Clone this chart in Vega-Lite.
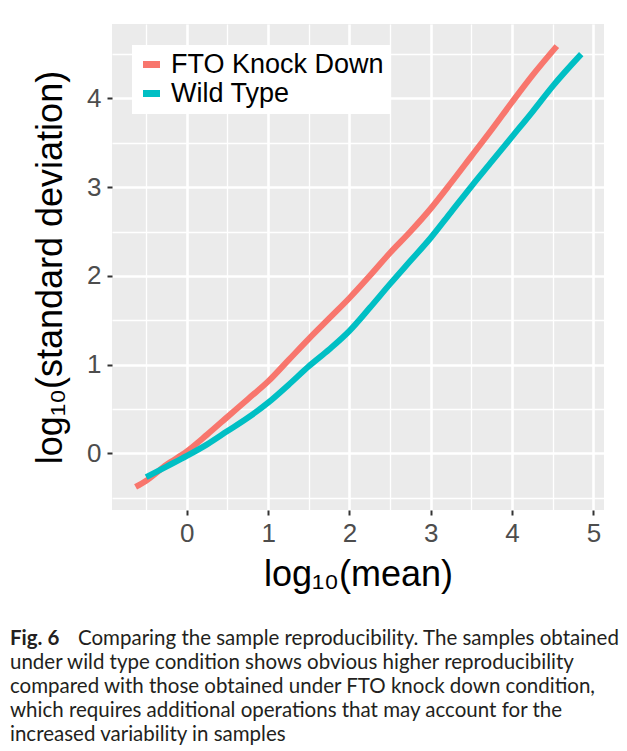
{
  "$schema": "https://vega.github.io/schema/vega-lite/v6.json",
  "background": "white",
  "padding": {"left": 10, "top": 24, "right": 0, "bottom": 0},
  "spacing": 35,
  "datasets": {
    "curves": [
      {"group": "FTO Knock Down", "x": -0.63, "y": -0.38},
      {"group": "FTO Knock Down", "x": -0.5, "y": -0.31},
      {"group": "FTO Knock Down", "x": -0.25, "y": -0.13},
      {"group": "FTO Knock Down", "x": 0, "y": 0.02},
      {"group": "FTO Knock Down", "x": 0.25, "y": 0.21},
      {"group": "FTO Knock Down", "x": 0.5, "y": 0.41},
      {"group": "FTO Knock Down", "x": 0.75, "y": 0.61},
      {"group": "FTO Knock Down", "x": 1, "y": 0.81},
      {"group": "FTO Knock Down", "x": 1.25, "y": 1.05},
      {"group": "FTO Knock Down", "x": 1.5, "y": 1.29},
      {"group": "FTO Knock Down", "x": 1.75, "y": 1.52},
      {"group": "FTO Knock Down", "x": 2, "y": 1.75},
      {"group": "FTO Knock Down", "x": 2.25, "y": 2.0},
      {"group": "FTO Knock Down", "x": 2.5, "y": 2.26},
      {"group": "FTO Knock Down", "x": 2.75, "y": 2.5},
      {"group": "FTO Knock Down", "x": 3, "y": 2.76},
      {"group": "FTO Knock Down", "x": 3.25, "y": 3.05},
      {"group": "FTO Knock Down", "x": 3.5, "y": 3.35},
      {"group": "FTO Knock Down", "x": 3.75, "y": 3.65},
      {"group": "FTO Knock Down", "x": 4, "y": 3.96},
      {"group": "FTO Knock Down", "x": 4.25, "y": 4.26},
      {"group": "FTO Knock Down", "x": 4.55, "y": 4.59},
      {"group": "Wild Type", "x": -0.5, "y": -0.27},
      {"group": "Wild Type", "x": -0.25, "y": -0.15},
      {"group": "Wild Type", "x": 0, "y": -0.03},
      {"group": "Wild Type", "x": 0.25, "y": 0.1},
      {"group": "Wild Type", "x": 0.5, "y": 0.25},
      {"group": "Wild Type", "x": 0.75, "y": 0.4},
      {"group": "Wild Type", "x": 1, "y": 0.57},
      {"group": "Wild Type", "x": 1.25, "y": 0.77},
      {"group": "Wild Type", "x": 1.5, "y": 0.98},
      {"group": "Wild Type", "x": 1.75, "y": 1.17},
      {"group": "Wild Type", "x": 2, "y": 1.38},
      {"group": "Wild Type", "x": 2.25, "y": 1.64},
      {"group": "Wild Type", "x": 2.5, "y": 1.91},
      {"group": "Wild Type", "x": 2.75, "y": 2.17},
      {"group": "Wild Type", "x": 3, "y": 2.43},
      {"group": "Wild Type", "x": 3.25, "y": 2.72},
      {"group": "Wild Type", "x": 3.5, "y": 3.01},
      {"group": "Wild Type", "x": 3.75, "y": 3.29},
      {"group": "Wild Type", "x": 4, "y": 3.57},
      {"group": "Wild Type", "x": 4.25, "y": 3.85},
      {"group": "Wild Type", "x": 4.5, "y": 4.14},
      {"group": "Wild Type", "x": 4.85, "y": 4.5}
    ],
    "caption": [
      {"line": 1, "part": "bold", "text": "Fig. 6"},
      {"line": 1, "part": "first", "text": "Comparing the sample reproducibility. The samples obtained"},
      {"line": 2, "part": "normal", "text": "under wild type condition shows obvious higher reproducibility"},
      {"line": 3, "part": "normal", "text": "compared with those obtained under FTO knock down condition,"},
      {"line": 4, "part": "normal", "text": "which requires additional operations that may account for the"},
      {"line": 5, "part": "normal", "text": "increased variability in samples"}
    ]
  },
  "vconcat": [
    {
      "width": 492,
      "height": 486,
      "data": {"name": "curves"},
      "mark": {"type": "line", "strokeWidth": 6, "strokeCap": "butt", "interpolate": "monotone"},
      "encoding": {
        "x": {
          "field": "x", "type": "quantitative",
          "scale": {"domain": [-0.92, 5.13], "nice": false, "zero": false},
          "axis": {
            "title": "log₁₀(mean)",
            "values": [-0.5, 0, 0.5, 1, 1.5, 2, 2.5, 3, 3.5, 4, 4.5, 5],
            "labelExpr": "datum.value % 1 === 0 ? format(datum.value, 'd') : ''",
            "gridWidth": {"condition": {"test": "datum.value % 1 !== 0", "value": 1.3}, "value": 2.6},
            "tickOpacity": {"condition": {"test": "datum.value % 1 !== 0", "value": 0}, "value": 1},
            "labelPadding": 5,
            "titlePadding": 11
          }
        },
        "y": {
          "field": "y", "type": "quantitative",
          "scale": {"domain": [-0.64, 4.84], "nice": false, "zero": false},
          "axis": {
            "title": "log₁₀(standard deviation)",
            "values": [-0.5, 0, 0.5, 1, 1.5, 2, 2.5, 3, 3.5, 4, 4.5],
            "labelExpr": "datum.value % 1 === 0 ? format(datum.value, 'd') : ''",
            "gridWidth": {"condition": {"test": "datum.value % 1 !== 0", "value": 1.3}, "value": 2.6},
            "tickOpacity": {"condition": {"test": "datum.value % 1 !== 0", "value": 0}, "value": 1},
            "labelPadding": 6,
            "titlePadding": 17
          }
        },
        "color": {
          "field": "group", "type": "nominal",
          "scale": {"domain": ["FTO Knock Down", "Wild Type"], "range": ["#F8766D", "#00BFC4"]},
          "legend": {
            "title": null,
            "orient": "none",
            "legendX": 20,
            "legendY": 21,
            "fillColor": "white",
            "padding": 6,
            "symbolType": "stroke",
            "symbolStrokeWidth": 7,
            "symbolSize": 289,
            "labelFont": "Liberation Sans",
            "labelFontSize": 27,
            "labelColor": "black",
            "labelOffset": 6,
            "rowPadding": 0,
            "labelLimit": 400
          }
        }
      }
    },
    {
      "width": 492,
      "height": 120,
      "view": {"fill": "white", "stroke": null},
      "data": {"name": "caption"},
      "encoding": {
        "x": {"datum": 0, "type": "quantitative", "scale": {"domain": [0, 1]}, "axis": null},
        "y": {"field": "line", "type": "ordinal", "axis": null, "scale": {"paddingOuter": 0.5}},
        "text": {"field": "text"}
      },
      "layer": [
        {
          "transform": [{"filter": "datum.part === 'bold'"}],
          "mark": {"type": "text", "align": "left", "baseline": "middle", "font": "Lato", "fontSize": 20.5, "fontWeight": "bold", "dx": -102, "color": "#231F20"}
        },
        {
          "transform": [{"filter": "datum.part === 'first'"}],
          "mark": {"type": "text", "align": "left", "baseline": "middle", "font": "Lato", "fontSize": 20.5, "dx": -34, "color": "#231F20"}
        },
        {
          "transform": [{"filter": "datum.part === 'normal'"}],
          "mark": {"type": "text", "align": "left", "baseline": "middle", "font": "Lato", "fontSize": 20.5, "dx": -102, "color": "#231F20"}
        }
      ]
    }
  ],
  "config": {
    "view": {"fill": "#EBEBEB", "stroke": null},
    "axis": {
      "domain": false,
      "grid": true,
      "gridColor": "white",
      "tickColor": "#333333",
      "tickSize": 5,
      "tickWidth": 2,
      "labelFont": "Liberation Sans",
      "labelFontSize": 26,
      "labelColor": "#4D4D4D",
      "labelOverlap": false,
      "labelFlush": false,
      "titleFont": "Liberation Sans",
      "titleFontSize": 36,
      "titleFontWeight": "normal",
      "titleColor": "black"
    }
  }
}
